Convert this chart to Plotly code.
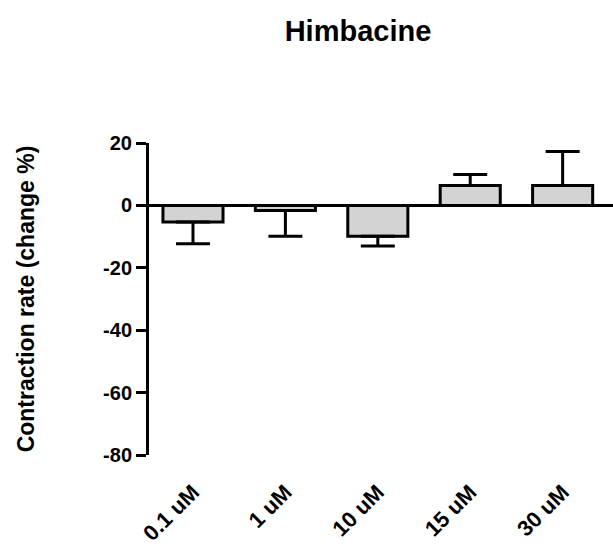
import plotly.graph_objects as go

categories = ["0.1 uM", "1 uM", "10 uM", "15 uM", "30 uM"]
means = [-5.3, -1.6, -9.9, 6.4, 6.4]
errors = [7.0, 8.3, 3.1, 3.5, 10.9]
y_ticks = [20, 0, -20, -40, -60, -80]

err_plus = [e if m >= 0 else 0 for m, e in zip(means, errors)]
err_minus = [e if m < 0 else 0 for m, e in zip(means, errors)]

FONT = "Liberation Sans, Arial, sans-serif"

fig = go.Figure()
fig.add_trace(go.Bar(
    x=categories, y=means, width=0.65,
    marker=dict(color="#d3d3d3", line=dict(color="black", width=3)),
    error_y=dict(type="data", symmetric=False, array=err_plus, arrayminus=err_minus,
                 color="black", thickness=3, width=17),
))

fig.update_layout(
    width=613, height=550,
    margin=dict(l=149, r=0, t=143, b=95),
    plot_bgcolor="white", paper_bgcolor="white",
    showlegend=False,
    title=dict(text="<b>Himbacine</b>", x=358/613, xref="container", xanchor="center",
               y=1 - 31/550, yref="container", yanchor="middle",
               font=dict(family=FONT, size=29, color="black")),
    xaxis=dict(
        range=[-0.476, 4.545], showline=False, showgrid=False, ticks="",
        tickangle=-45, ticklabelstandoff=19,
        tickfont=dict(family=FONT, size=22, color="black", weight="bold"),
    ),
    yaxis=dict(
        range=[-80, 20], tickvals=y_ticks, ticktext=[str(v) for v in y_ticks],
        showline=True, linecolor="black", linewidth=3,
        ticks="outside", ticklen=10, tickwidth=3, tickcolor="black",
        showgrid=False, zeroline=True, zerolinecolor="black", zerolinewidth=3,
        tickfont=dict(family=FONT, size=20, color="black", weight="bold"),
        title=dict(text="<b>Contraction rate (change %)</b>", standoff=63,
                   font=dict(family=FONT, size=23, color="black")),
    ),
)

fig.write_html("out.html")
